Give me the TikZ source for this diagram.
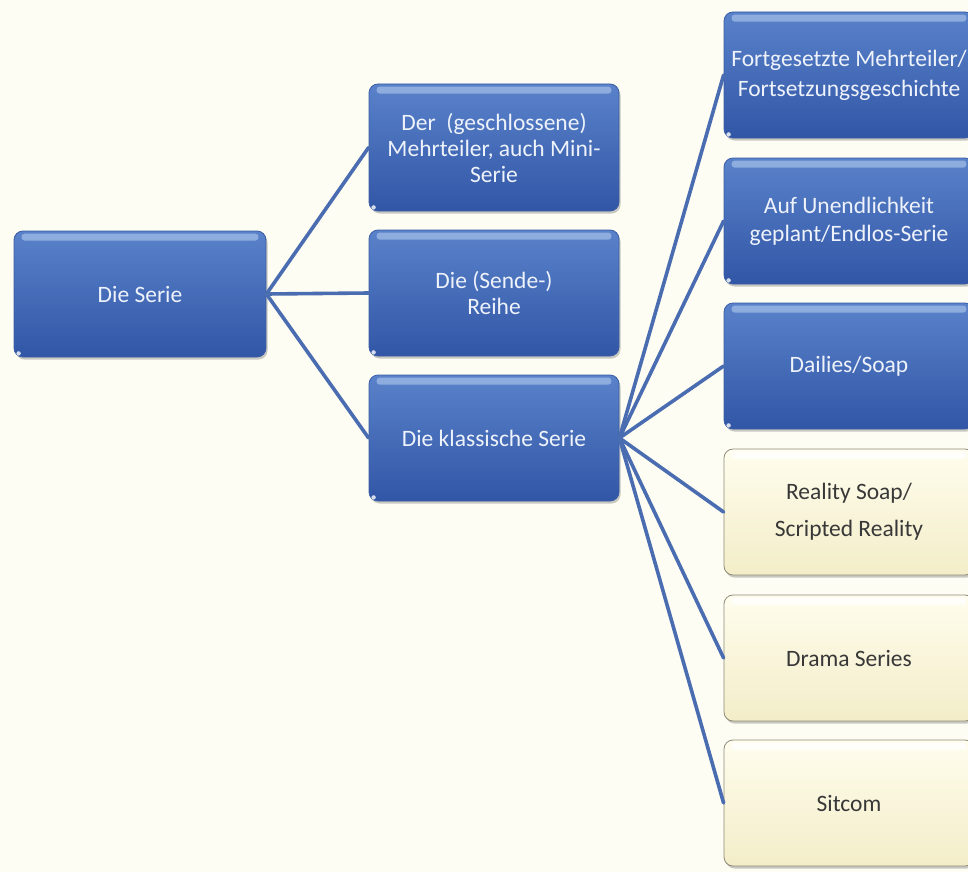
\documentclass[tikz,border=0pt]{standalone}
\usepackage{fontspec}
\setmainfont{Carlito}
\usetikzlibrary{shadows}
\definecolor{bg}{HTML}{FEFDF3}
\definecolor{bluetop}{HTML}{5A82CA}
\definecolor{bluebot}{HTML}{3156A6}
\definecolor{blueedge}{HTML}{3A5DA6}
\definecolor{bluetext}{HTML}{EEF2FA}
\definecolor{creamtop}{HTML}{FFFDEE}
\definecolor{creambot}{HTML}{F3EDC8}
\definecolor{creamedge}{HTML}{8C8A78}
\definecolor{linkc}{HTML}{4A6CB0}
\definecolor{hlblue}{HTML}{A5C0E8}
\tikzset{
  x=1pt, y=1pt,
  box/.style={rectangle, rounded corners=9pt, minimum width=250pt, minimum height=126pt,
    align=center, font=\fontsize{23.5}{26}\selectfont, inner sep=2pt,
    drop shadow={shadow xshift=1.5pt, shadow yshift=-2.5pt, opacity=0.35, fill=black!60}},
  bluebox/.style={box, top color=bluetop, bottom color=bluebot, draw=blueedge, line width=0.8pt, text=bluetext},
  creambox/.style={box, top color=creamtop, bottom color=creambot, draw=creamedge, line width=0.8pt, text=black!78},
  link/.style={draw=linkc, line width=3.6pt, line cap=round},
  hl/.style={fill=hlblue, opacity=0.7, rounded corners=3pt},
  hlc/.style={fill=white, opacity=0.8, rounded corners=3pt}
}
\begin{document}
\begin{tikzpicture}
\clip (0,0) rectangle (968,-872);
\fill[bg] (0,0) rectangle (968,-872);

\node[bluebox, minimum width=252pt] (serie) at (140,-294) {Die Serie};
\node[bluebox, minimum height=127pt] (mehr) at (494,-147.5) {Der\ \ (geschlossene)\\Mehrteiler, auch Mini-\\Serie};
\node[bluebox] (reihe) at (494,-293) {Die (Sende-)\\Reihe};
\node[bluebox] (klass) at (494,-438) {Die klassische Serie};

\node[bluebox, font=\fontsize{23.5}{30}\selectfont] (r1) at (849,-75) {Fortgesetzte Mehrteiler/\\Fortsetzungsgeschichte};
\node[bluebox, font=\fontsize{23.5}{28}\selectfont] (r2) at (849,-221) {Auf Unendlichkeit\\geplant/Endlos-Serie};
\node[bluebox] (r3) at (849,-366) {Dailies/Soap};
\node[creambox, font=\fontsize{23.5}{37}\selectfont] (r4) at (849,-512) {Reality Soap/\\Scripted Reality};
\node[creambox] (r5) at (849,-658) {Drama Series};
\node[creambox] (r6) at (849,-803) {Sitcom};

\foreach \n in {serie,mehr,reihe,klass,r1,r2,r3}{
  \fill[hl] ([xshift=8pt,yshift=-3pt]\n.north west) rectangle ([xshift=-8pt,yshift=-10pt]\n.north east);
  \fill[white,opacity=0.8] ([xshift=5pt,yshift=4pt]\n.south west) circle (2.2pt);
}
\foreach \n in {r4,r5,r6}{
  \fill[hlc] ([xshift=8pt,yshift=-3pt]\n.north west) rectangle ([xshift=-8pt,yshift=-10pt]\n.north east);
}

\draw[link] (serie.east) -- (mehr.west);
\draw[link] (serie.east) -- (reihe.west);
\draw[link] (serie.east) -- (klass.west);
\foreach \n in {r1,r2,r3,r4,r5,r6}{
  \draw[link] (klass.east) -- (\n.west);
}
\end{tikzpicture}
\end{document}
